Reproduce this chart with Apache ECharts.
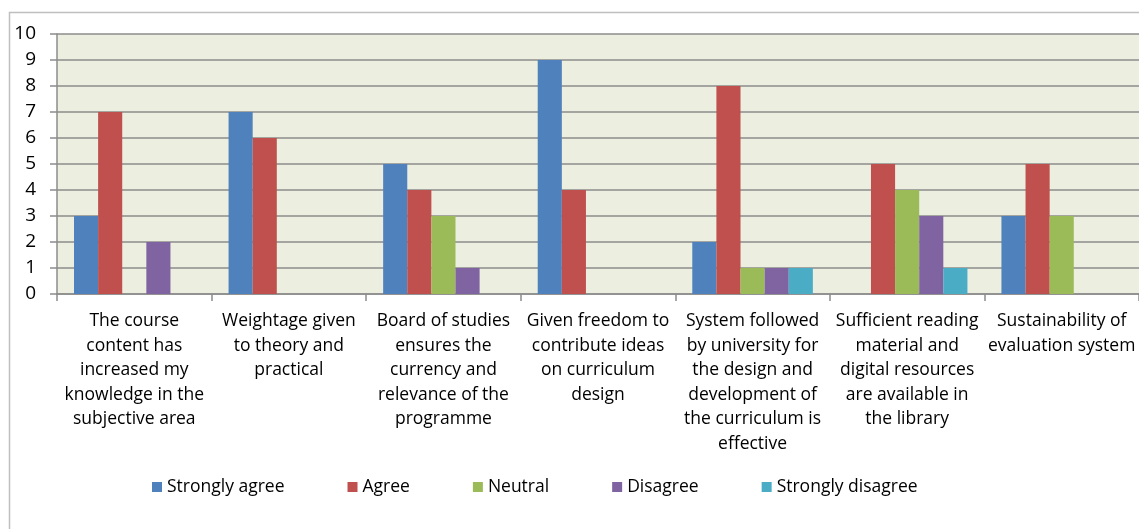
<!DOCTYPE html>
<html>
<head>
<meta charset="utf-8">
<script src="https://cdn.jsdelivr.net/npm/echarts@6/dist/echarts.min.js"></script>
<style>
  html, body { margin: 0; padding: 0; background: #ffffff; }
  #chart { width: 1139px; height: 529px; }
</style>
</head>
<body>
<div id="chart"></div>
<script>
// Survey statements (x-axis categories)
const categories = [
  'The course\ncontent has\nincreased my\nknowledge in the\nsubjective area',
  'Weightage given\nto theory and\npractical',
  'Board of studies\nensures the\ncurrency and\nrelevance of the\nprogramme',
  'Given freedom to\ncontribute ideas\non curriculum\ndesign',
  'System followed\nby university for\nthe design and\ndevelopment of\nthe curriculum is\neffective',
  'Sufficient reading\nmaterial and\ndigital resources\nare available in\nthe library',
  'Sustainability of\nevaluation system'
];

// Response counts per statement
const stronglyAgree    = [3, 7, 5, 9, 2, 0, 3];
const agree            = [7, 6, 4, 4, 8, 5, 5];
const neutral          = [0, 0, 3, 0, 1, 4, 3];
const disagree         = [2, 0, 1, 0, 1, 3, 0];
const stronglyDisagree = [0, 0, 0, 0, 1, 1, 0];

const seriesNames = ['Strongly agree', 'Agree', 'Neutral', 'Disagree', 'Strongly disagree'];
const seriesData = [stronglyAgree, agree, neutral, disagree, stronglyDisagree];
const colors = ['#4F81BD', '#C0504D', '#9BBB59', '#8064A2', '#4BACC6'];

const FONT = '"Open Sans", sans-serif';
const GRID_GRAY = '#8c8c8c';

const chart = echarts.init(document.getElementById('chart'));

chart.setOption({
  animation: false,
  color: colors,
  textStyle: { fontFamily: FONT, color: '#000' },
  graphic: [{
    type: 'rect',
    shape: { x: 9.5, y: 12.5, width: 1200, height: 600 },
    style: { fill: 'none', stroke: '#bfbfbf', lineWidth: 1.5 },
    silent: true,
    z: -10
  }],
  grid: {
    left: 57, top: 34, width: 1083, height: 260,
    show: true,
    backgroundColor: '#ECEEE0',
    borderWidth: 0
  },
  legend: {
    data: seriesNames,
    left: 147,
    top: 473,
    itemWidth: 10,
    itemHeight: 10,
    itemGap: 63,
    icon: 'rect',
    textStyle: { fontFamily: FONT, fontSize: 17.5, color: '#000' }
  },
  xAxis: {
    type: 'category',
    data: categories,
    axisLine: { lineStyle: { color: GRID_GRAY, width: 1.5 } },
    axisTick: { show: true, length: 7, lineStyle: { color: GRID_GRAY, width: 1.5 } },
    axisLabel: {
      interval: 0,
      margin: 15,
      fontFamily: FONT,
      fontSize: 17.5,
      lineHeight: 24.5,
      color: '#000',
      align: 'center'
    }
  },
  yAxis: {
    type: 'value',
    min: 0, max: 10, interval: 1,
    axisLine: { show: true, lineStyle: { color: GRID_GRAY, width: 1.5 } },
    axisTick: { show: true, length: 7, lineStyle: { color: GRID_GRAY, width: 1.5 } },
    splitLine: { lineStyle: { color: GRID_GRAY, width: 1.5 } },
    axisLabel: { fontFamily: FONT, fontSize: 19, color: '#000', margin: 21 }
  },
  series: seriesNames.map((name, i) => ({
    name: name,
    type: 'bar',
    data: seriesData[i],
    barGap: '0%',
    barCategoryGap: '22%',
    itemStyle: { color: colors[i] }
  }))
});
</script>
</body>
</html>
